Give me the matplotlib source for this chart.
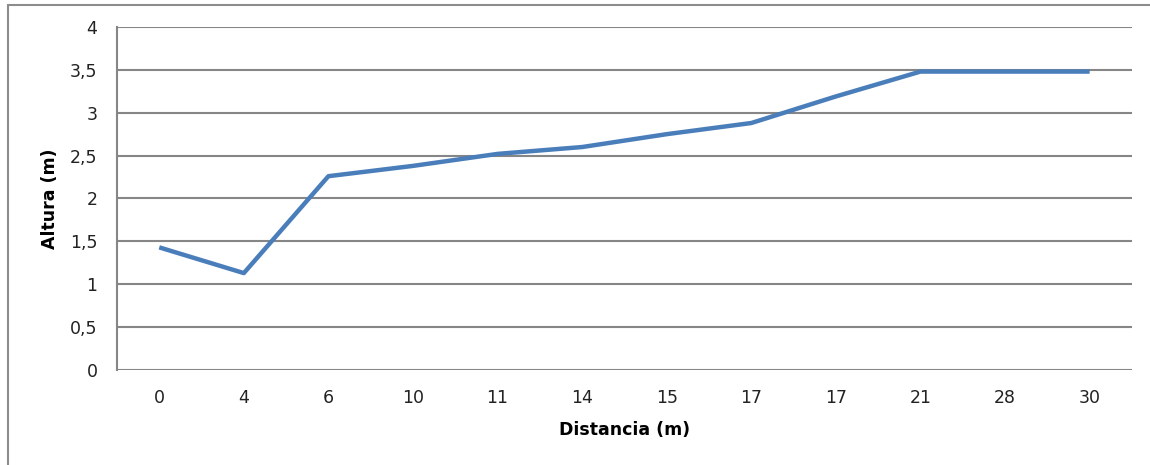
import matplotlib
matplotlib.use("Agg")
import matplotlib.pyplot as plt
from matplotlib.patches import Rectangle
from matplotlib.ticker import FuncFormatter

# Data
distancia = ["0", "4", "6", "10", "11", "14", "15", "17", "17", "21", "28", "30"]
altura = [1.43, 1.13, 2.26, 2.38, 2.52, 2.60, 2.75, 2.88, 3.19, 3.48, 3.48, 3.48]
y_ticks = [0, 0.5, 1, 1.5, 2, 2.5, 3, 3.5, 4]

grid_color = "#868686"

fig = plt.figure(figsize=(11.5, 4.65), dpi=100)
ax = fig.add_axes([0.1017, 0.2043, 0.8826, 0.7377])

# outer chart border
fig.patches.append(Rectangle((0.007, -0.01), 1.2, 1.0, transform=fig.transFigure,
                             fill=False, edgecolor="#8c8c8c", linewidth=1.5))

x = list(range(len(distancia)))
ax.plot(x, altura, color="#4A7EBB", linewidth=3.2, solid_capstyle="butt", zorder=3)

ax.set_xlim(-0.5, len(distancia) - 0.5)
ax.set_ylim(0, 4)
ax.set_xticks(x)
ax.set_xticklabels(distancia)
ax.set_yticks(y_ticks)
ax.yaxis.set_major_formatter(FuncFormatter(lambda v, p: ("%g" % v).replace(".", ",")))

ax.grid(axis="y", color=grid_color, linewidth=1.5)
ax.set_axisbelow(True)
for s in ["top", "right", "bottom"]:
    ax.spines[s].set_visible(False)
ax.spines["left"].set_color(grid_color)
ax.spines["left"].set_linewidth(1.5)
ax.tick_params(axis="both", length=0, labelsize=12.5, colors="#222222")
ax.tick_params(axis="y", pad=14)
ax.tick_params(axis="x", pad=14)

ax.set_xlabel("Distancia (m)", fontsize=12.5, fontweight="bold", labelpad=10)
ax.set_ylabel("Altura (m)", fontsize=12.5, fontweight="bold", labelpad=8)

fig.savefig("out.png", dpi=100)
